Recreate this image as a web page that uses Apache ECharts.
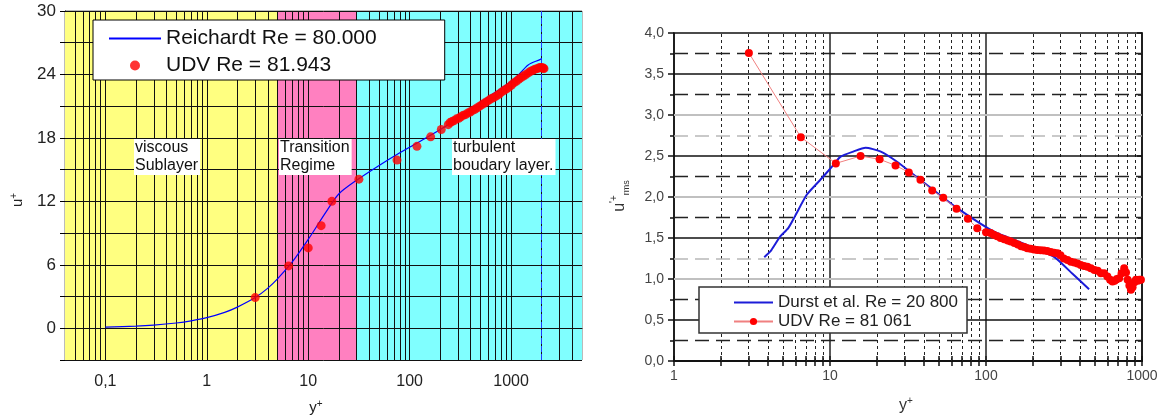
<!DOCTYPE html>
<html><head><meta charset="utf-8">
<script src="https://cdn.jsdelivr.net/npm/echarts@6/dist/echarts.min.js"></script>
<style>html,body{margin:0;padding:0;background:#fff}#c{width:1165px;height:418px}</style>
</head><body><div id="c"></div>
<script>
// ---------- LEFT PANEL DATA ----------
var reichardtX = [0.1, 0.2, 0.3, 0.5, 0.7, 1, 1.5, 2, 3, 4, 5, 7, 10, 15, 20, 30, 50, 80, 110, 235, 505, 1084, 1473, 1922, 2000];
var reichardtU = [0.1, 0.2, 0.3, 0.5, 0.7, 1.0, 1.5, 2.0, 2.9, 3.8, 4.7, 6.3, 8.4, 11.0, 12.7, 14.0, 15.4, 16.6, 17.35, 19.2, 21.4, 23.6, 24.9, 25.4, 25.5];
var udvLX = [3.0, 6.4, 10.0, 13.4, 17.1, 31.6, 75, 118, 161, 205,
  240, 250, 262, 275, 290, 305, 320, 338, 355, 375, 395, 418, 440, 465, 490, 518, 548, 580, 612, 648,
  685, 725, 765, 810, 855, 905, 955, 1010, 1065, 1125, 1190, 1255, 1325, 1400, 1480, 1560, 1640, 1720,
  1800, 1870, 1930, 1990, 2040, 2080, 2110];
var udvLU = [2.9, 5.9, 7.6, 9.7, 12.0, 14.1, 15.9, 17.2, 18.1, 18.8,
  19.25, 19.45, 19.55, 19.65, 19.8, 19.85, 20.0, 20.15, 20.2, 20.35, 20.45, 20.6, 20.7, 20.85, 21.0, 21.15, 21.3, 21.45, 21.6, 21.75,
  21.85, 22.0, 22.15, 22.35, 22.5, 22.65, 22.8, 23.0, 23.2, 23.35, 23.55, 23.7, 23.85, 24.0, 24.15, 24.3, 24.4, 24.5,
  24.55, 24.6, 24.65, 24.65, 24.6, 24.6, 24.55];
var regimeBounds = [0.04, 5, 30, 5000];
var regimeNames = ['viscous\nSublayer', 'Transition\nRegime', 'turbulent\nboudary layer.'];
var leftXLabels = [0.1, 1, 10, 100, 1000];
var leftYRange = [-3, 30];

// ---------- RIGHT PANEL DATA ----------
var durstX = [3.79, 4.2, 4.8, 5.4, 5.98, 7.11, 8.67, 10.3, 11.65, 14.2, 16.9, 21, 26.9, 35, 45, 65.4, 112, 180, 273, 360, 458];
var durstU = [1.266, 1.35, 1.52, 1.62, 1.77, 2.03, 2.21, 2.37, 2.49, 2.556, 2.60, 2.556, 2.43, 2.26, 2.10, 1.865, 1.58, 1.42, 1.27, 1.06, 0.875];
var udvRX = [3.02, 6.5, 10.9, 15.7, 20.8, 26.3, 32, 38, 45.2, 53.2, 64.7, 76.5, 87.9, 100,
  107, 112, 118, 124, 131, 138, 144, 152, 160, 168, 176, 184, 193, 203, 213, 224, 235, 247, 260, 273,
  287, 300, 315, 333, 350, 368, 386, 405, 425, 447, 470, 495, 520, 545, 572, 600, 625, 647, 668, 690,
  714, 740, 769, 790, 809, 830, 849, 870, 893, 915, 940, 962, 984];
var udvRU = [3.757, 2.73, 2.41, 2.50, 2.46, 2.385, 2.30, 2.21, 2.08, 1.99, 1.856, 1.734, 1.62, 1.57,
  1.56, 1.54, 1.52, 1.50, 1.485, 1.47, 1.457, 1.44, 1.42, 1.40, 1.39, 1.376, 1.37, 1.36, 1.355, 1.35, 1.347, 1.34, 1.33, 1.32,
  1.315, 1.29, 1.25, 1.233, 1.21, 1.20, 1.19, 1.17, 1.16, 1.15, 1.13, 1.11, 1.10, 1.07, 1.07, 1.03, 0.99, 0.97, 0.98, 1.00,
  1.01, 1.07, 1.13, 1.08, 0.99, 0.92, 0.87, 0.90, 0.96, 0.99, 0.98, 0.99, 0.99];
var rightXLabels = [1, 10, 100, 1000];
var rightYRange = [0, 4];

// ---------- helpers ----------
function zip(a, b) { return a.map(function (v, i) { return [v, b[i]]; }); }
function logGrid(lo, hi) {
  var out = [];
  for (var e = -3; e <= 4; e++) for (var k = 1; k <= 9; k++) {
    var v = parseFloat((k * Math.pow(10, e)).toPrecision(6));
    if (v > lo && v < hi) out.push(v);
  }
  return out;
}
function comma(v) { return String(v).replace('.', ','); }

var leftGridX = logGrid(regimeBounds[0], regimeBounds[3]);
var leftGridY = [];
for (var y = leftYRange[0]; y <= leftYRange[1]; y += 3) leftGridY.push(y);
var rightGridX = logGrid(1, 1000);
var rightTickX = [1].concat(rightGridX).concat([1000]);

var regimeColors = ['#ffff80', '#ff80c0', '#80ffff'];

var leftGridLines = leftGridX.map(function (v) { return { xAxis: v }; })
  .concat(leftGridY.map(function (v) { return { yAxis: v }; }))
  .concat([{ xAxis: 2000, lineStyle: { color: '#1f3cff', width: 1, type: [6, 2] } }]);

var rightGridLines = [];
rightGridX.forEach(function (v) {
  var major = (v === 10 || v === 100);
  rightGridLines.push({ xAxis: v, lineStyle: major ? { color: '#222', width: 1.5, type: 'solid' } : { color: '#222', width: 1, type: [3, 3] } });
});
[0.5, 1.5, 2.5, 3.5].forEach(function (v) { rightGridLines.push({ yAxis: v, lineStyle: { color: '#111', width: 1.5, type: 'solid' } }); });
[1, 2, 3].forEach(function (v) { rightGridLines.push({ yAxis: v, lineStyle: { color: '#c0c0c0', width: 2, type: 'solid' } }); });
[0.25, 0.75, 1.75, 2.25, 3.25, 3.75].forEach(function (v) { rightGridLines.push({ yAxis: v, lineStyle: { color: '#222', width: 1.3, type: [14, 7] } }); });
[1.25, 2.75].forEach(function (v) { rightGridLines.push({ yAxis: v, lineStyle: { color: '#b8b8b8', width: 1.5, type: [14, 7] } }); });

var FONT = 'Liberation Sans, Arial, sans-serif';

var chart = echarts.init(document.getElementById('c'), null, { renderer: 'canvas' });
chart.setOption({
  animation: false,
  textStyle: { fontFamily: FONT },
  grid: [
    { left: 65, top: 11, width: 517, height: 349, show: true, borderColor: '#777', borderWidth: 1, backgroundColor: 'transparent' },
    { left: 674, top: 33, width: 468, height: 328, show: true, borderColor: '#111', borderWidth: 1.5, backgroundColor: 'transparent' }
  ],
  xAxis: [
    { type: 'log', gridIndex: 0, logBase: 10, min: regimeBounds[0], max: regimeBounds[3],
      axisLine: { show: true, lineStyle: { color: '#000', width: 1 } },
      axisTick: { show: true, length: 4, customValues: leftGridX, lineStyle: { color: '#000' } },
      splitLine: { show: false },
      axisLabel: { customValues: leftXLabels, formatter: comma, fontSize: 16, color: '#222', margin: 14, fontFamily: FONT } },
    { type: 'log', gridIndex: 1, logBase: 10, min: 1, max: 1000,
      axisLine: { show: true, lineStyle: { color: '#111', width: 1.5 } },
      axisTick: { show: true, inside: true, length: 5, customValues: rightTickX, lineStyle: { color: '#111', width: 1.5 } },
      splitLine: { show: false },
      axisLabel: { customValues: rightXLabels, formatter: function (v) { return String(v); }, fontSize: 14, color: '#444', margin: 8, fontFamily: FONT } },
    { type: 'log', gridIndex: 1, position: 'top', logBase: 10, min: 1, max: 1000,
      axisLine: { show: true, lineStyle: { color: '#111', width: 1.5 } },
      axisTick: { show: true, inside: true, length: 5, customValues: rightTickX, lineStyle: { color: '#111', width: 1.5 } },
      splitLine: { show: false }, axisLabel: { show: false } }
  ],
  yAxis: [
    { type: 'value', gridIndex: 0, min: leftYRange[0], max: leftYRange[1], interval: 3,
      axisLine: { show: true, lineStyle: { color: '#000' } },
      axisTick: { show: true, length: 5, lineStyle: { color: '#000' } },
      splitLine: { show: false },
      axisLabel: { formatter: function (v) { return (v % 6 === 0) ? String(v) : ''; }, fontSize: 17, color: '#222', margin: 9, fontFamily: FONT } },
    { type: 'value', gridIndex: 1, min: rightYRange[0], max: rightYRange[1], interval: 0.5,
      axisLine: { show: true, lineStyle: { color: '#111', width: 1.5 } },
      axisTick: { show: true, length: 6, lineStyle: { color: '#111', width: 1.5 } },
      minorTick: { show: true, splitNumber: 2, length: 4, lineStyle: { color: '#111', width: 1.5 } },
      splitLine: { show: false },
      axisLabel: { formatter: function (v) { return v.toFixed(1).replace('.', ','); }, fontSize: 14, color: '#444', margin: 10, fontFamily: FONT } },
    { type: 'value', gridIndex: 1, position: 'right', min: rightYRange[0], max: rightYRange[1], interval: 0.5,
      axisLine: { show: true, lineStyle: { color: '#111', width: 1.5 } },
      axisTick: { show: true, inside: true, length: 5, lineStyle: { color: '#111', width: 1.5 } },
      minorTick: { show: true, splitNumber: 2, length: 4, lineStyle: { color: '#111', width: 1.5 } },
      splitLine: { show: false }, axisLabel: { show: false } }
  ],
  legend: [
    { data: [{ name: 'Reichardt Re = 80.000', itemStyle: { opacity: 0 } }, 'UDV Re = 81.943'], orient: 'vertical', left: 93, top: 20, z: 20,
      itemWidth: 52, itemHeight: 10, itemGap: 6, padding: [8, 68, 4, 15],
      backgroundColor: '#fff', borderColor: '#000', borderWidth: 1,
      textStyle: { fontSize: 21, color: '#111', fontFamily: FONT } },
    { data: [{ name: 'Durst et al. Re = 20 800', itemStyle: { opacity: 0 } }, 'UDV Re = 81 061'], orient: 'vertical', left: 699, top: 287, z: 20,
      itemWidth: 39, itemHeight: 9, itemGap: 2, padding: [7, 9, 3, 34],
      backgroundColor: '#fff', borderColor: '#333', borderWidth: 1.5,
      textStyle: { fontSize: 17, color: '#222', fontFamily: FONT } }
  ],
  series: [
    { type: 'line', name: 'regimes', xAxisIndex: 0, yAxisIndex: 0, data: [], z: 0, silent: true,
      markArea: { silent: true, data: [0, 1, 2].map(function (i) {
        return [{ xAxis: regimeBounds[i], itemStyle: { color: regimeColors[i] } }, { xAxis: regimeBounds[i + 1] }];
      }) } },
    { type: 'line', name: 'gridL', xAxisIndex: 0, yAxisIndex: 0, data: [], z: 1, silent: true,
      markLine: { silent: true, symbol: ['none', 'none'], label: { show: false },
        lineStyle: { color: '#111', width: 1, type: 'solid' }, data: leftGridLines } },
    { type: 'line', name: 'Reichardt Re = 80.000', xAxisIndex: 0, yAxisIndex: 0, data: zip(reichardtX, reichardtU),
      symbol: 'none', smooth: 0.3, z: 5, lineStyle: { color: '#0000ff', width: 1.2 }, itemStyle: { color: '#0000ff' } },
    { type: 'scatter', name: 'UDV Re = 81.943', xAxisIndex: 0, yAxisIndex: 0, data: zip(udvLX, udvLU),
      symbol: 'circle', symbolSize: 9, z: 6, itemStyle: { color: '#ff0000' } },
    { type: 'line', name: 'gridR', xAxisIndex: 1, yAxisIndex: 1, data: [], z: 1, silent: true,
      markLine: { silent: true, symbol: ['none', 'none'], label: { show: false }, data: rightGridLines } },
    { type: 'line', name: 'Durst et al. Re = 20 800', xAxisIndex: 1, yAxisIndex: 1, data: zip(durstX, durstU),
      symbol: 'none', smooth: 0.2, z: 5, lineStyle: { color: '#1c1cd8', width: 2 }, itemStyle: { color: '#1c1cd8' } },
    { type: 'line', name: 'UDV Re = 81 061', xAxisIndex: 1, yAxisIndex: 1, data: zip(udvRX, udvRU),
      symbol: 'circle', symbolSize: 8, showSymbol: true, z: 6,
      lineStyle: { color: '#f08080', width: 1 }, itemStyle: { color: '#ff0000' } }
  ],
  graphic: [
    { type: 'text', left: 134, top: 139, z: 50, style: { text: regimeNames[0], font: '16px ' + FONT, lineHeight: 18, fill: '#111', backgroundColor: '#fff', padding: [0, 2, 0, 1] } },
    { type: 'text', left: 279, top: 139, z: 50, style: { text: regimeNames[1], font: '16px ' + FONT, lineHeight: 18, fill: '#111', backgroundColor: '#fff', padding: [0, 2, 0, 1] } },
    { type: 'text', left: 452, top: 139, z: 50, style: { text: regimeNames[2], font: '16px ' + FONT, lineHeight: 18, fill: '#111', backgroundColor: '#fff', padding: [0, 2, 0, 1] } },
    { type: 'text', x: 18, y: 200, rotation: Math.PI / 2, z: 50,
      style: { text: '{a|u}{b|+}', align: 'center', verticalAlign: 'middle', fill: '#222',
        rich: { a: { fontSize: 15, lineHeight: 18, fontFamily: FONT, fill: '#222' }, b: { fontSize: 10, lineHeight: 10, verticalAlign: 'top', fontFamily: FONT, fill: '#222' } } } },
    { type: 'text', x: 316, y: 408, z: 50,
      style: { text: '{a|y}{b|+}', align: 'center', verticalAlign: 'middle', fill: '#222',
        rich: { a: { fontSize: 15, lineHeight: 18, fontFamily: FONT, fill: '#222' }, b: { fontSize: 10, lineHeight: 10, verticalAlign: 'top', fontFamily: FONT, fill: '#222' } } } },
    { type: 'text', x: 620, y: 196, rotation: Math.PI / 2, z: 50,
      style: { text: "{a|u}{b|'+}{c|rms}", align: 'center', verticalAlign: 'middle', fill: '#333',
        rich: { a: { fontSize: 16, lineHeight: 22, fontFamily: FONT, fill: '#333' },
                b: { fontSize: 10, lineHeight: 10, verticalAlign: 'top', fontFamily: FONT, fill: '#333' },
                c: { fontSize: 9, lineHeight: 9, verticalAlign: 'bottom', fontFamily: FONT, fill: '#333' } } } },
    { type: 'text', x: 906, y: 406, z: 50,
      style: { text: '{a|y}{b|+}', align: 'center', verticalAlign: 'middle', fill: '#333',
        rich: { a: { fontSize: 16, lineHeight: 20, fontFamily: FONT, fill: '#333' }, b: { fontSize: 10, lineHeight: 10, verticalAlign: 'top', fontFamily: FONT, fill: '#333' } } } }
  ]
});
</script></body></html>
